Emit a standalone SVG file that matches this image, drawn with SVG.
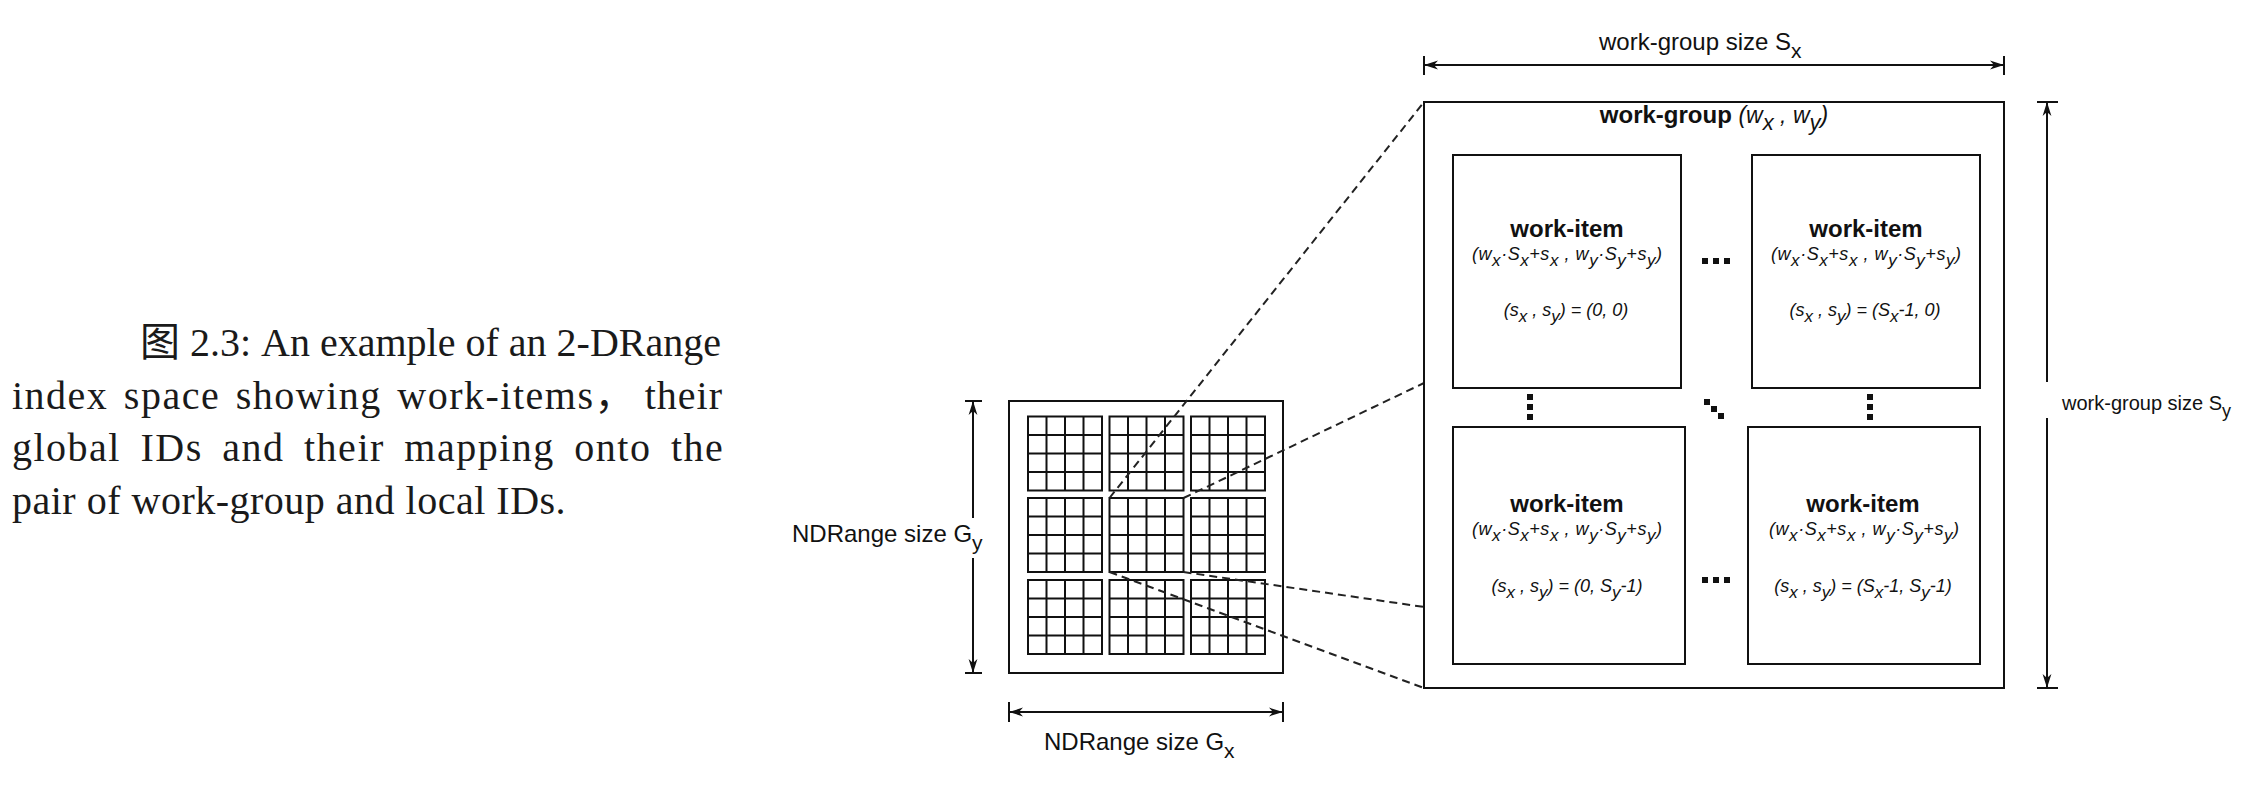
<svg xmlns="http://www.w3.org/2000/svg" xmlns:xlink="http://www.w3.org/1999/xlink" width="2242" height="792" viewBox="0 0 2242 792">
<style>
  .cap { font-family: "Liberation Serif", "Noto Sans CJK SC", serif; font-size: 40px; fill: #1a1a1a; }
  .lbl { font-family: "Liberation Sans", Arial, sans-serif; fill: #111; }
  .b { font-family: "Liberation Sans", Arial, sans-serif; font-weight: bold; fill: #111; }
  .it { font-family: "Liberation Sans", Arial, sans-serif; font-style: italic; fill: #111; }
  .box { fill: none; stroke: #111; stroke-width: 2; }
  .grid { fill: none; stroke: #111; stroke-width: 2; }
  .dim { fill: none; stroke: #111; stroke-width: 2; }
  .dash { fill: none; stroke: #222; stroke-width: 2; stroke-dasharray: 8 5; }
  .dot { fill: #111; }
</style>
<defs>
  <marker id="ah" viewBox="0 0 14 10" markerWidth="14" markerHeight="10" refX="14" refY="5" markerUnits="userSpaceOnUse" orient="auto-start-reverse">
    <path d="M14,5 L0,0.6 L4,5 L0,9.4 Z" fill="#111"/>
  </marker>
  <g id="tile">
    <rect class="grid" x="0" y="0" width="74" height="74"/>
    <path class="grid" d="M18.5,0 V74 M37,0 V74 M55.5,0 V74 M0,18.5 H74 M0,37 H74 M0,55.5 H74"/>
  </g>
</defs>
<rect width="2242" height="792" fill="#fff"/>

<g id="caption">
  <text class="cap" x="140" y="356">图 2.3: An example of an 2-DRange</text>
  <text class="cap" x="12" y="408.5" style="letter-spacing:1.5px;word-spacing:4px">index space showing work-items，</text>
  <text class="cap" x="723" y="408.5" text-anchor="end" style="letter-spacing:1px">their</text>
  <text class="cap" x="12" y="461" style="letter-spacing:1.5px;word-spacing:8px">global IDs and their mapping onto the</text>
  <text class="cap" x="12" y="513.5" style="letter-spacing:0.5px">pair of work-group and local IDs.</text>
</g>

<g id="ndrange">
  <rect class="box" x="1009" y="401" width="274" height="272"/>
  <use xlink:href="#tile" x="1028" y="416.5"/>
  <use xlink:href="#tile" x="1109.5" y="416.5"/>
  <use xlink:href="#tile" x="1191" y="416.5"/>
  <use xlink:href="#tile" x="1028" y="498"/>
  <use xlink:href="#tile" x="1109.5" y="498"/>
  <use xlink:href="#tile" x="1191" y="498"/>
  <use xlink:href="#tile" x="1028" y="580"/>
  <use xlink:href="#tile" x="1109.5" y="580"/>
  <use xlink:href="#tile" x="1191" y="580"/>
</g>

<g id="connectors">
  <line class="dash" x1="1109.5" y1="498" x2="1424" y2="102"/>
  <line class="dash" x1="1183.5" y1="498" x2="1424" y2="383"/>
  <line class="dash" x1="1109.5" y1="572" x2="1424" y2="688"/>
  <line class="dash" x1="1183.5" y1="572" x2="1424" y2="607"/>
</g>

<g id="dimensions">
  <path class="dim" d="M965,401 H982 M965,673 H982"/>
  <line class="dim" x1="973" y1="518" x2="973" y2="401" marker-end="url(#ah)"/>
  <line class="dim" x1="973" y1="558" x2="973" y2="673" marker-end="url(#ah)"/>
  <text class="lbl" x="792" y="542" style="font-size:24px">NDRange size G<tspan style="font-size:21px" dy="8">y</tspan></text>
  <path class="dim" d="M1009,702 V722 M1283,702 V722"/>
  <line class="dim" x1="1009" y1="712" x2="1283" y2="712" marker-start="url(#ah)" marker-end="url(#ah)"/>
  <text class="lbl" x="1044" y="750" style="font-size:24px">NDRange size G<tspan style="font-size:21px" dy="8">x</tspan></text>
  <path class="dim" d="M1424,56 V75 M2004,56 V75"/>
  <line class="dim" x1="1424" y1="65" x2="2004" y2="65" marker-start="url(#ah)" marker-end="url(#ah)"/>
  <text class="lbl" x="1599" y="50" style="font-size:24px">work-group size S<tspan style="font-size:21px" dy="8">x</tspan></text>
  <path class="dim" d="M2037,102 H2058 M2037,688 H2058"/>
  <line class="dim" x1="2047" y1="382" x2="2047" y2="102" marker-end="url(#ah)"/>
  <line class="dim" x1="2047" y1="418" x2="2047" y2="688" marker-end="url(#ah)"/>
  <text class="lbl" x="2062" y="410" style="font-size:20px">work-group size S<tspan style="font-size:18px" dy="7">y</tspan></text>
</g>

<g id="workgroup">
  <rect class="box" x="1424" y="102" width="580" height="586"/>
  <text x="1714" y="123" text-anchor="middle"><tspan class="b" style="font-size:24px">work-group </tspan><tspan class="it" style="font-size:23px">(w<tspan dy="7" style="font-size:22px">x</tspan><tspan dy="-7"> , w</tspan><tspan dy="7" style="font-size:22px">y</tspan><tspan dy="-7">)</tspan></tspan></text>
</g>

<g id="item-0-0">
  <rect class="box" x="1453" y="155" width="228" height="233"/>
  <text class="b" x="1567" y="237" style="font-size:24px" text-anchor="middle">work-item</text>
  <text class="it" x="1567" y="260" style="font-size:18px" text-anchor="middle" textLength="190" lengthAdjust="spacing">(w<tspan dy="6" style="font-size:17px">x</tspan><tspan dy="-6">·S</tspan><tspan dy="6" style="font-size:17px">x</tspan><tspan dy="-6">+s</tspan><tspan dy="6" style="font-size:17px">x</tspan><tspan dy="-6"> , w</tspan><tspan dy="6" style="font-size:17px">y</tspan><tspan dy="-6">·S</tspan><tspan dy="6" style="font-size:17px">y</tspan><tspan dy="-6">+s</tspan><tspan dy="6" style="font-size:17px">y</tspan><tspan dy="-6">)</tspan></text>
  <text class="it" x="1566" y="316" style="font-size:18px" text-anchor="middle">(s<tspan dy="6" style="font-size:17px">x</tspan><tspan dy="-6"> , s</tspan><tspan dy="6" style="font-size:17px">y</tspan><tspan dy="-6">) = (0, 0)</tspan></text>
</g>

<g id="item-1-0">
  <rect class="box" x="1752" y="155" width="228" height="233"/>
  <text class="b" x="1866" y="237" style="font-size:24px" text-anchor="middle">work-item</text>
  <text class="it" x="1866" y="260" style="font-size:18px" text-anchor="middle" textLength="190" lengthAdjust="spacing">(w<tspan dy="6" style="font-size:17px">x</tspan><tspan dy="-6">·S</tspan><tspan dy="6" style="font-size:17px">x</tspan><tspan dy="-6">+s</tspan><tspan dy="6" style="font-size:17px">x</tspan><tspan dy="-6"> , w</tspan><tspan dy="6" style="font-size:17px">y</tspan><tspan dy="-6">·S</tspan><tspan dy="6" style="font-size:17px">y</tspan><tspan dy="-6">+s</tspan><tspan dy="6" style="font-size:17px">y</tspan><tspan dy="-6">)</tspan></text>
  <text class="it" x="1865" y="316" style="font-size:18px" text-anchor="middle">(s<tspan dy="6" style="font-size:17px">x</tspan><tspan dy="-6"> , s</tspan><tspan dy="6" style="font-size:17px">y</tspan><tspan dy="-6">) = (S</tspan><tspan dy="6" style="font-size:17px">x</tspan><tspan dy="-6">-1, 0)</tspan></text>
</g>

<g id="item-0-1">
  <rect class="box" x="1453" y="427" width="232" height="237"/>
  <text class="b" x="1567" y="512" style="font-size:24px" text-anchor="middle">work-item</text>
  <text class="it" x="1567" y="535" style="font-size:18px" text-anchor="middle" textLength="190" lengthAdjust="spacing">(w<tspan dy="6" style="font-size:17px">x</tspan><tspan dy="-6">·S</tspan><tspan dy="6" style="font-size:17px">x</tspan><tspan dy="-6">+s</tspan><tspan dy="6" style="font-size:17px">x</tspan><tspan dy="-6"> , w</tspan><tspan dy="6" style="font-size:17px">y</tspan><tspan dy="-6">·S</tspan><tspan dy="6" style="font-size:17px">y</tspan><tspan dy="-6">+s</tspan><tspan dy="6" style="font-size:17px">y</tspan><tspan dy="-6">)</tspan></text>
  <text class="it" x="1567" y="592" style="font-size:18px" text-anchor="middle">(s<tspan dy="6" style="font-size:17px">x</tspan><tspan dy="-6"> , s</tspan><tspan dy="6" style="font-size:17px">y</tspan><tspan dy="-6">) = (0, S</tspan><tspan dy="6" style="font-size:17px">y</tspan><tspan dy="-6">-1)</tspan></text>
</g>

<g id="item-1-1">
  <rect class="box" x="1748" y="427" width="232" height="237"/>
  <text class="b" x="1863" y="512" style="font-size:24px" text-anchor="middle">work-item</text>
  <text class="it" x="1864" y="535" style="font-size:18px" text-anchor="middle" textLength="190" lengthAdjust="spacing">(w<tspan dy="6" style="font-size:17px">x</tspan><tspan dy="-6">·S</tspan><tspan dy="6" style="font-size:17px">x</tspan><tspan dy="-6">+s</tspan><tspan dy="6" style="font-size:17px">x</tspan><tspan dy="-6"> , w</tspan><tspan dy="6" style="font-size:17px">y</tspan><tspan dy="-6">·S</tspan><tspan dy="6" style="font-size:17px">y</tspan><tspan dy="-6">+s</tspan><tspan dy="6" style="font-size:17px">y</tspan><tspan dy="-6">)</tspan></text>
  <text class="it" x="1863" y="592" style="font-size:18px" text-anchor="middle">(s<tspan dy="6" style="font-size:17px">x</tspan><tspan dy="-6"> , s</tspan><tspan dy="6" style="font-size:17px">y</tspan><tspan dy="-6">) = (S</tspan><tspan dy="6" style="font-size:17px">x</tspan><tspan dy="-6">-1, S</tspan><tspan dy="6" style="font-size:17px">y</tspan><tspan dy="-6">-1)</tspan></text>
</g>

<g id="ellipses">
  <rect class="dot" x="1702" y="258" width="6" height="6"/>
  <rect class="dot" x="1713" y="258" width="6" height="6"/>
  <rect class="dot" x="1724" y="258" width="6" height="6"/>
  <rect class="dot" x="1702" y="577" width="6" height="6"/>
  <rect class="dot" x="1713" y="577" width="6" height="6"/>
  <rect class="dot" x="1724" y="577" width="6" height="6"/>
  <rect class="dot" x="1527" y="394" width="6" height="6"/>
  <rect class="dot" x="1527" y="404" width="6" height="6"/>
  <rect class="dot" x="1527" y="414" width="6" height="6"/>
  <rect class="dot" x="1867" y="394" width="6" height="6"/>
  <rect class="dot" x="1867" y="404" width="6" height="6"/>
  <rect class="dot" x="1867" y="414" width="6" height="6"/>
  <rect class="dot" x="1704" y="399" width="6" height="6"/>
  <rect class="dot" x="1711" y="406" width="6" height="6"/>
  <rect class="dot" x="1718" y="413" width="6" height="6"/>
</g>
</svg>
